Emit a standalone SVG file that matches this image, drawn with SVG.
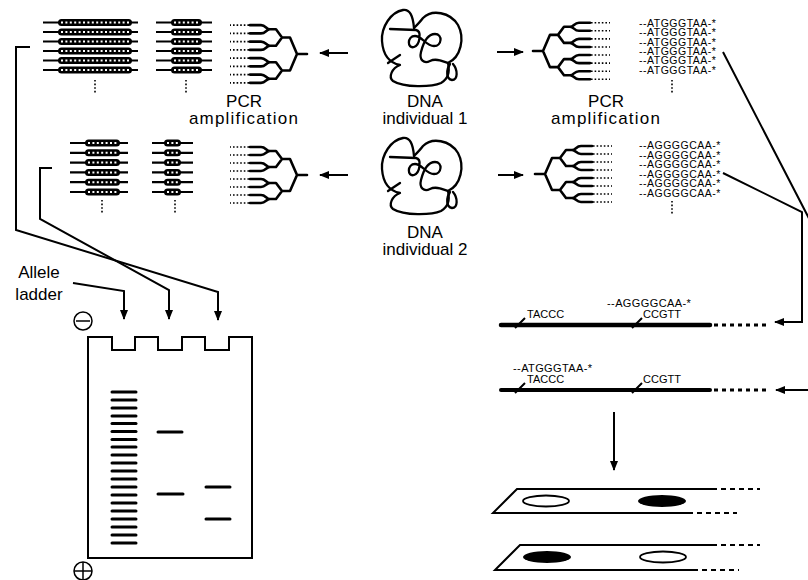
<svg xmlns="http://www.w3.org/2000/svg" xmlns:xlink="http://www.w3.org/1999/xlink" width="808" height="580" viewBox="0 0 808 580">
  <style>
    .ln { fill: none; stroke: #000; stroke-width: 2; }
    .thick { fill: none; stroke: #000; stroke-width: 2.6; stroke-linecap: round; stroke-linejoin: round; }
    .coil { fill: none; stroke: #000; stroke-width: 2.3; stroke-linecap: round; stroke-linejoin: round; }
    .dots { fill: none; stroke: #000; stroke-width: 1.6; stroke-dasharray: 1.6 2; }
    .wdots { fill: none; stroke: #fff; stroke-width: 2; stroke-dasharray: 2 2.4; }
    .lbl { font-family: "Liberation Sans", Arial, sans-serif; font-size: 17px; fill: #000; text-anchor: middle; }
    .wide { letter-spacing: 1.2px; }
    .seq { font-family: "Liberation Sans", Arial, sans-serif; font-size: 10.5px; letter-spacing: 0.5px; fill: #000; }
    .small { font-family: "Liberation Sans", Arial, sans-serif; font-size: 11px; fill: #000; }
    .band { stroke: #000; stroke-width: 3; stroke-linecap: round; }
  </style>
  <defs>
    <marker id="ah" viewBox="0 0 10 8" refX="9" refY="4" markerWidth="10" markerHeight="8" markerUnits="userSpaceOnUse" orient="auto">
      <path d="M0,0 L10,4 L0,8 Z" fill="#000"/>
    </marker>
    <!-- amplified fragments: thin flanks with a dotted repeat block -->
    <g id="fragA">
      <line x1="0" y1="0" x2="95" y2="0" stroke="#000" stroke-width="2.2"/>
      <rect x="15" y="-3.5" width="74" height="7" rx="3.5" fill="#000"/>
      <line x1="18" y1="0" x2="86" y2="0" class="wdots"/>
    </g>
    <g id="fragB">
      <line x1="0" y1="0" x2="56" y2="0" stroke="#000" stroke-width="2.2"/>
      <rect x="15" y="-3.5" width="31" height="7" rx="3.5" fill="#000"/>
      <line x1="18" y1="0" x2="43" y2="0" class="wdots"/>
    </g>
    <g id="fragC">
      <line x1="0" y1="0" x2="58" y2="0" stroke="#000" stroke-width="2.2"/>
      <rect x="15" y="-3.5" width="35" height="7" rx="3.5" fill="#000"/>
      <line x1="18" y1="0" x2="47" y2="0" class="wdots"/>
    </g>
    <g id="fragD">
      <line x1="0" y1="0" x2="41" y2="0" stroke="#000" stroke-width="2.2"/>
      <rect x="12" y="-3.5" width="17" height="7" rx="3.5" fill="#000"/>
      <line x1="15" y1="0" x2="26" y2="0" class="wdots"/>
    </g>
    <!-- PCR branching tree, root at origin, opening to the right -->
    <g id="tree">
      <path class="thick" d="M0,0 H10 M10,0 L17,-16 H25 M10,0 L17,16 H25
        M25,-16 L31,-24 H37 M25,-16 L31,-8 H37 M25,16 L31,8 H37 M25,16 L31,24 H37
        M37,-24 C41,-24 41,-28 46,-28 H57 M37,-24 C41,-24 41,-20 46,-20 H57
        M37,-8 C41,-8 41,-12 46,-12 H57 M37,-8 C41,-8 41,-4 46,-4 H57
        M37,8 C41,8 41,4 46,4 H57 M37,8 C41,8 41,12 46,12 H57
        M37,24 C41,24 41,20 46,20 H57 M37,24 C41,24 41,28 46,28 H57"/>
      <path class="dots" d="M58,-28 H77 M58,-20 H77 M58,-12 H77 M58,-4 H77 M58,4 H77 M58,12 H77 M58,20 H77 M58,28 H77"/>
    </g>
    <!-- tangled genomic DNA -->
    <g id="coil" class="coil">
      <path d="M20,29 L46,30 C52,31 50,45 44,47 C37,49 37,36 45,36 C52,36 56,46 64,46 C72,46 73,34 65,34 C57,34 53,44 51,52 C49,60 54,64 60,61 C66,58 72,61 78,63 C91,57 95,38 88,25 C80,12 62,9 53,18 C50,22 47,25 44,28"/>
      <path d="M44,28 C43,16 40,9 33,10 C21,12 11,27 12,41 C13,55 20,63 30,65 C22,68 18,77 23,81 C34,88 62,87 71,83 C78,79 80,72 78,63"/>
      <path d="M80,64 C76,70 76,79 82,80 C88,80 88,70 83,64"/>
      <path d="M18,63 L30,55"/>
    </g>
  </defs>

  <!-- individual 1: amplified alleles -->
  <g id="alleles1">
    <use xlink:href="#fragA" x="43" y="22.5"/>
    <use xlink:href="#fragA" x="43" y="32"/>
    <use xlink:href="#fragA" x="43" y="41.5"/>
    <use xlink:href="#fragA" x="43" y="51"/>
    <use xlink:href="#fragA" x="43" y="60.5"/>
    <use xlink:href="#fragA" x="43" y="70"/>
    <line x1="95" y1="80" x2="95" y2="93" class="dots"/>
    <use xlink:href="#fragB" x="156" y="22.5"/>
    <use xlink:href="#fragB" x="156" y="32"/>
    <use xlink:href="#fragB" x="156" y="41.5"/>
    <use xlink:href="#fragB" x="156" y="51"/>
    <use xlink:href="#fragB" x="156" y="60.5"/>
    <use xlink:href="#fragB" x="156" y="70"/>
    <line x1="186" y1="80" x2="186" y2="93" class="dots"/>
  </g>

  <!-- individual 2: amplified alleles -->
  <g id="alleles2">
    <use xlink:href="#fragC" x="70" y="143"/>
    <use xlink:href="#fragC" x="70" y="152.8"/>
    <use xlink:href="#fragC" x="70" y="162.6"/>
    <use xlink:href="#fragC" x="70" y="172.4"/>
    <use xlink:href="#fragC" x="70" y="182.2"/>
    <use xlink:href="#fragC" x="70" y="192"/>
    <line x1="102" y1="200" x2="102" y2="214" class="dots"/>
    <use xlink:href="#fragD" x="152" y="143"/>
    <use xlink:href="#fragD" x="152" y="152.8"/>
    <use xlink:href="#fragD" x="152" y="162.6"/>
    <use xlink:href="#fragD" x="152" y="172.4"/>
    <use xlink:href="#fragD" x="152" y="182.2"/>
    <use xlink:href="#fragD" x="152" y="192"/>
    <line x1="175" y1="200" x2="175" y2="214" class="dots"/>
  </g>

  <!-- PCR trees -->
  <g id="pcr1-left">
    <use xlink:href="#tree" transform="translate(307,54) scale(-1,1.03)"/>
    <text class="lbl" x="244" y="107">PCR</text>
    <text class="lbl wide" x="244" y="124">amplification</text>
  </g>
  <g id="pcr1-right">
    <use xlink:href="#tree" transform="translate(533,51) scale(1,1.01)"/>
    <text class="lbl" x="606" y="107">PCR</text>
    <text class="lbl wide" x="606" y="124">amplification</text>
  </g>
  <g id="pcr2-left">
    <use xlink:href="#tree" transform="translate(307,175) scale(-1,1)"/>
  </g>
  <g id="pcr2-right">
    <use xlink:href="#tree" transform="translate(535,174)"/>
  </g>

  <!-- genomic DNA -->
  <g id="dna1">
    <use xlink:href="#coil" transform="translate(370,0)"/>
    <text class="lbl" x="425" y="107">DNA</text>
    <text class="lbl" x="425" y="124">individual 1</text>
  </g>
  <g id="dna2">
    <use xlink:href="#coil" transform="translate(370,128)"/>
    <text class="lbl" x="425" y="238">DNA</text>
    <text class="lbl" x="425" y="255">individual 2</text>
  </g>

  <!-- labelled products, stacked copies -->
  <g id="seq1">
    <text class="seq"><tspan x="639" y="27">--ATGGGTAA-*</tspan><tspan x="639" y="36.3">--ATGGGTAA-*</tspan><tspan x="639" y="45.6">--ATGGGTAA-*</tspan><tspan x="639" y="54.9">--ATGGGTAA-*</tspan><tspan x="639" y="64.2">--ATGGGTAA-*</tspan><tspan x="639" y="73.5">--ATGGGTAA-*</tspan></text>
    <line x1="672" y1="80" x2="672" y2="93" class="dots"/>
  </g>
  <g id="seq2">
    <text class="seq"><tspan x="639" y="149">--AGGGGCAA-*</tspan><tspan x="639" y="158.6">--AGGGGCAA-*</tspan><tspan x="639" y="168.2">--AGGGGCAA-*</tspan><tspan x="639" y="177.8">--AGGGGCAA-*</tspan><tspan x="639" y="187.4">--AGGGGCAA-*</tspan><tspan x="639" y="197">--AGGGGCAA-*</tspan></text>
    <line x1="672" y1="201" x2="672" y2="214" class="dots"/>
  </g>

  <!-- hybridised target strands -->
  <g id="target1">
    <line x1="501" y1="325" x2="710" y2="325" stroke="#000" stroke-width="4.5" stroke-linecap="round"/>
    <line x1="714" y1="325" x2="768" y2="325" stroke="#000" stroke-width="3" stroke-dasharray="4 4"/>
    <path class="ln" stroke-width="1.5" d="M515,328 L525,318 M632,328 L642,318"/>
    <text class="small" x="527" y="318">TACCC</text>
    <text class="small" x="643" y="318">CCGTT</text>
    <text class="small" x="607" y="307" letter-spacing="0.4">--AGGGGCAA-*</text>
  </g>
  <g id="target2">
    <line x1="501" y1="390" x2="710" y2="390" stroke="#000" stroke-width="4" stroke-linecap="round"/>
    <line x1="714" y1="390" x2="768" y2="390" stroke="#000" stroke-width="3" stroke-dasharray="4 4"/>
    <path class="ln" stroke-width="1.5" d="M515,393 L525,383 M632,393 L642,383"/>
    <text class="small" x="527" y="383">TACCC</text>
    <text class="small" x="643" y="383">CCGTT</text>
    <text class="small" x="513" y="372" letter-spacing="0.4">--ATGGGTAA-*</text>
  </g>

  <!-- detection slides -->
  <g id="slide1">
    <path class="ln" d="M717,489 H517 L493,513 H693"/>
    <path class="ln" stroke-dasharray="5 4" d="M721,489 H760 M697,513 H737"/>
    <ellipse cx="546" cy="501" rx="23" ry="5.5" fill="none" stroke="#000" stroke-width="1.8"/>
    <ellipse cx="662" cy="501" rx="24" ry="6" fill="#000"/>
  </g>
  <g id="slide2">
    <path class="ln" d="M717,545 H520 L495,570 H698"/>
    <path class="ln" stroke-dasharray="5 4" d="M721,545 H760 M702,570 H739"/>
    <ellipse cx="547" cy="557" rx="24" ry="6" fill="#000"/>
    <ellipse cx="663" cy="557" rx="23" ry="5.5" fill="none" stroke="#000" stroke-width="1.8"/>
  </g>

  <!-- electrophoresis gel -->
  <g id="gel">
    <path class="ln" d="M88,337 H112 V350 H135 V337 H158 V350 H182 V337 H205 V350 H229 V337 H252 V558 H88 Z"/>
    <g class="band">
      <line x1="112" y1="392" x2="136" y2="392"/>
      <line x1="112" y1="400" x2="136" y2="400"/>
      <line x1="112" y1="408" x2="136" y2="408"/>
      <line x1="112" y1="416" x2="136" y2="416"/>
      <line x1="112" y1="423.5" x2="136" y2="423.5"/>
      <line x1="112" y1="431.5" x2="136" y2="431.5"/>
      <line x1="112" y1="439.5" x2="136" y2="439.5"/>
      <line x1="112" y1="447" x2="136" y2="447"/>
      <line x1="112" y1="455" x2="136" y2="455"/>
      <line x1="112" y1="463" x2="136" y2="463"/>
      <line x1="112" y1="471" x2="136" y2="471"/>
      <line x1="112" y1="479" x2="136" y2="479"/>
      <line x1="112" y1="487" x2="136" y2="487"/>
      <line x1="112" y1="495" x2="136" y2="495"/>
      <line x1="112" y1="503" x2="136" y2="503"/>
      <line x1="112" y1="511" x2="136" y2="511"/>
      <line x1="112" y1="519" x2="136" y2="519"/>
      <line x1="112" y1="527" x2="136" y2="527"/>
      <line x1="112" y1="535" x2="136" y2="535"/>
      <line x1="112" y1="543" x2="136" y2="543"/>
      <line x1="158" y1="432" x2="182" y2="432"/>
      <line x1="158" y1="494" x2="183" y2="494"/>
      <line x1="206" y1="487" x2="230" y2="487"/>
      <line x1="206" y1="519" x2="230" y2="519"/>
    </g>
    <g id="cathode">
      <circle cx="83" cy="321" r="9" fill="none" stroke="#000" stroke-width="1.5"/>
      <line x1="76" y1="321" x2="90" y2="321" stroke="#000" stroke-width="1.5"/>
    </g>
    <g id="anode">
      <circle cx="83" cy="571" r="9" fill="none" stroke="#000" stroke-width="1.5"/>
      <line x1="74" y1="571" x2="92" y2="571" stroke="#000" stroke-width="1.5"/>
      <line x1="83" y1="562" x2="83" y2="580" stroke="#000" stroke-width="1.5"/>
    </g>
    <text class="lbl" x="39" y="278">Allele</text>
    <text class="lbl" x="39" y="300">ladder</text>
  </g>

  <!-- connectors -->
  <g id="connectors" class="ln" marker-end="url(#ah)">
    <path d="M348,53 H320"/>
    <path d="M497,52 H523"/>
    <path d="M348,175 H320"/>
    <path d="M498,175 H523"/>
    <path d="M30,47 H16 V230 L218,292 V320"/>
    <path d="M52,168 H40 V219 L169,290 V319"/>
    <path d="M73,283 L124,291 V319"/>
    <path d="M723,52 L816,232 V390 H776"/>
    <path d="M723,173 L802,212 V322 H775"/>
    <path d="M614,412 V470"/>
  </g>
</svg>
